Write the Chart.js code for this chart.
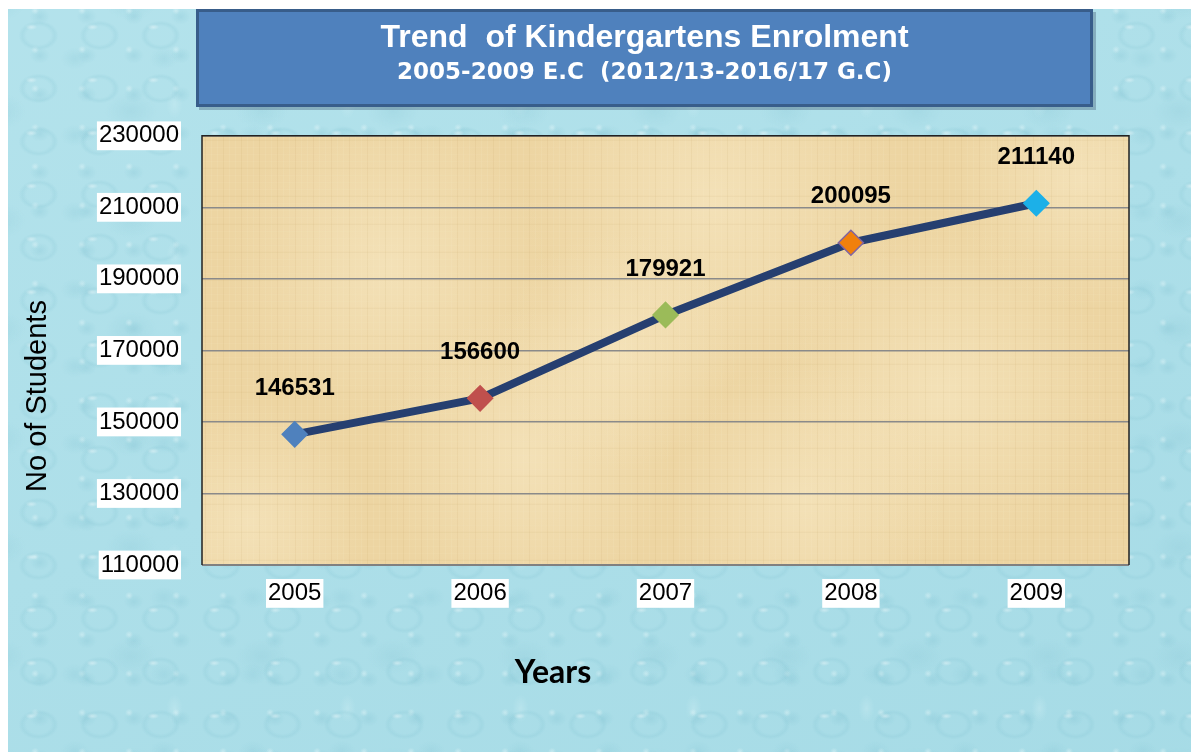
<!DOCTYPE html>
<html>
<head>
<meta charset="utf-8">
<script src="https://cdn.jsdelivr.net/npm/chart.js@4.4.1/dist/chart.umd.min.js"></script>
<style>
  html, body { margin:0; padding:0; background:#ffffff; width:1191px; height:752px; overflow:hidden; }
  #bg {
    position:absolute; left:8px; top:9px; width:1183px; height:743px;
    background-color:#ade0ea;
    background-image:
      radial-gradient(ellipse 6px 3px at 38% 34%, rgba(255,255,255,0.40), rgba(255,255,255,0) 100%),
      radial-gradient(ellipse 20px 15px at 50% 50%, rgba(120,188,204,0.0) 60%, rgba(120,188,204,0.16) 82%, rgba(120,188,204,0) 100%),
      radial-gradient(ellipse 14px 11px at 45% 50%, rgba(130,195,210,0.22), rgba(130,195,210,0) 100%),
      radial-gradient(circle 4px at 30% 30%, rgba(240,252,253,0.40), rgba(240,252,253,0) 100%),
      radial-gradient(ellipse 10px 8px at 40% 45%, rgba(110,180,198,0.20), rgba(110,180,198,0) 100%),
      radial-gradient(ellipse 26px 18px at 55% 60%, rgba(140,200,214,0.25), rgba(140,200,214,0) 100%),
      radial-gradient(ellipse 8px 14px at 50% 50%, rgba(215,243,247,0.30), rgba(215,243,247,0) 100%),
      linear-gradient(160deg, rgba(255,255,255,0.08), rgba(90,165,185,0.08));
    background-size: 61px 53px, 61px 53px, 89px 77px, 47px 39px, 47px 39px, 131px 109px, 173px 151px, 100% 100%;
    background-position: 0 0, 0 0, 27px 11px, 13px 29px, 13px 29px, 51px 37px, 80px 20px, 0 0;
  }
  #wrap { position:absolute; left:0; top:0; width:1191px; height:752px; }
</style>
</head>
<body>
<div id="bg"></div>
<div id="wrap"><canvas id="c" width="1191" height="752"></canvas></div>
<script>
// ---------- data ----------
const years = ['2005', '2006', '2007', '2008', '2009'];
const enrolment = [146531, 156600, 179921, 200095, 211140];
const yMin = 110000;
const yMax = 230000;
const yStep = 20000;
const titleText = 'Trend  of Kindergartens Enrolment';
const subtitleText = '2005-2009 E.C  (2012/13-2016/17 G.C)';
const xAxisTitle = 'Years';
const yAxisTitle = 'No of Students';

// ---------- styles ----------
const markerFill = ['#4F81BD', '#C0504D', '#9BBB59', '#F0800C', '#1CB0E8'];
const markerBorder = ['#4F81BD', '#C0504D', '#9BBB59', '#8064A2', '#1CB0E8'];
const lineColor = '#263F70';
const titleBox = { left: 196, top: 9, right: 1093, bottom: 107 };

const decorPlugin = {
  id: 'decor',
  afterLayout(chart) {
    // centre the title and subtitle over the title box
    chart.boxes.forEach(b => {
      if (b.options && typeof b.options.text === 'string' && !b.axis) {
        b.left = titleBox.left;
        b.right = titleBox.right;
        b.width = titleBox.right - titleBox.left;
      }
    });
  },
  beforeDraw(chart) {
    const ctx = chart.ctx;
    const a = chart.chartArea;
    ctx.save();
    // title box
    const bw = titleBox.right - titleBox.left, bh = titleBox.bottom - titleBox.top;
    ctx.fillStyle = 'rgba(40,60,90,0.30)';
    ctx.fillRect(titleBox.left + 3, titleBox.top + 3, bw, bh);
    ctx.fillStyle = '#4F81BD';
    ctx.fillRect(titleBox.left, titleBox.top, bw, bh);
    ctx.strokeStyle = '#385D8A';
    ctx.lineWidth = 3;
    ctx.strokeRect(titleBox.left + 1.5, titleBox.top + 1.5, bw - 3, bh - 3);
    // parchment plot area
    const w = a.right - a.left, h = a.bottom - a.top;
    ctx.fillStyle = '#EDD5A2';
    ctx.fillRect(a.left, a.top, w, h);
    ctx.beginPath();
    ctx.rect(a.left, a.top, w, h);
    ctx.clip();
    const patches = [[0.2,0.3,160],[0.55,0.15,190],[0.8,0.6,170],[0.35,0.75,150],[0.05,0.9,120],[0.95,0.1,130],[0.65,0.85,140],[0.45,0.5,120]];
    patches.forEach(p => {
      const cx = a.left + p[0]*w, cy = a.top + p[1]*h;
      const g = ctx.createRadialGradient(cx, cy, 0, cx, cy, p[2]);
      g.addColorStop(0, 'rgba(246,230,192,0.7)');
      g.addColorStop(1, 'rgba(246,230,192,0)');
      ctx.fillStyle = g;
      ctx.fillRect(a.left, a.top, w, h);
    });
    ctx.lineWidth = 1;
    for (let x = a.left + 3, i = 0; x < a.right; x += 6, i++) {
      ctx.strokeStyle = (i % 3 === 0) ? 'rgba(170,130,60,0.07)' : 'rgba(255,245,215,0.10)';
      ctx.beginPath(); ctx.moveTo(x + 0.5, a.top); ctx.lineTo(x + 0.5, a.bottom); ctx.stroke();
    }
    for (let y = a.top + 4, i = 0; y < a.bottom; y += 7, i++) {
      ctx.strokeStyle = (i % 4 === 0) ? 'rgba(170,130,60,0.07)' : 'rgba(255,245,215,0.08)';
      ctx.beginPath(); ctx.moveTo(a.left, y + 0.5); ctx.lineTo(a.right, y + 0.5); ctx.stroke();
    }
    ctx.restore();
  },
  beforeDatasetsDraw(chart) {
    const ctx = chart.ctx;
    const a = chart.chartArea;
    ctx.save();
    ctx.lineWidth = 2;
    ctx.strokeStyle = '#808080';
    ctx.beginPath(); ctx.moveTo(a.left, a.bottom); ctx.lineTo(a.right, a.bottom); ctx.stroke();
    ctx.strokeStyle = '#222222';
    ctx.lineWidth = 1.5;
    ctx.beginPath();
    ctx.moveTo(a.left, a.bottom); ctx.lineTo(a.left, a.top); ctx.lineTo(a.right, a.top); ctx.lineTo(a.right, a.bottom);
    ctx.stroke();
    ctx.restore();
  },
  afterDatasetsDraw(chart) {
    const ctx = chart.ctx;
    const meta = chart.getDatasetMeta(0);
    ctx.save();
    ctx.font = 'bold 24px "Liberation Sans", Arial, sans-serif';
    ctx.fillStyle = '#000000';
    ctx.textAlign = 'center';
    ctx.textBaseline = 'middle';
    meta.data.forEach((pt, i) => {
      ctx.fillText(String(chart.data.datasets[0].data[i]), pt.x, pt.y - 46);
    });
    ctx.restore();
  },
  afterDraw(chart) {
    const ctx = chart.ctx;
    ctx.save();
    ctx.fillStyle = '#000000';
    ctx.textAlign = 'center';
    ctx.textBaseline = 'middle';
    // y axis title
    ctx.font = '29px "Liberation Sans", Arial, sans-serif';
    ctx.translate(38, 396);
    ctx.rotate(-Math.PI / 2);
    ctx.fillText(chart.options.scales.y.title.text, 0, 0);
    ctx.setTransform(1, 0, 0, 1, 0, 0);
    // x axis title
    ctx.font = 'bold 32px Lato, "Liberation Sans", sans-serif';
    ctx.fillText(chart.options.scales.x.title.text, 553, 673);
    ctx.restore();
  }
};

new Chart(document.getElementById('c'), {
  type: 'line',
  data: {
    labels: years,
    datasets: [{
      label: 'Enrolment',
      data: enrolment,
      borderColor: lineColor,
      borderWidth: 8,
      borderJoinStyle: 'round',
      borderCapStyle: 'round',
      tension: 0,
      fill: false,
      pointStyle: 'rectRot',
      pointRadius: 12.5,
      pointHoverRadius: 12.5,
      pointBackgroundColor: markerFill,
      pointBorderColor: markerBorder,
      pointBorderWidth: 1.5
    }]
  },
  options: {
    responsive: false,
    devicePixelRatio: 1,
    animation: false,
    events: [],
    layout: { padding: { left: 0, right: 62, top: 0, bottom: 0 } },
    plugins: {
      legend: { display: false },
      tooltip: { enabled: false },
      title: {
        display: true,
        text: titleText,
        color: '#ffffff',
        font: { family: '"Liberation Sans", Arial, sans-serif', size: 32, weight: 'bold', lineHeight: 1.2 },
        padding: { top: 19, bottom: 0 }
      },
      subtitle: {
        display: true,
        text: subtitleText,
        color: '#ffffff',
        font: { family: '"DejaVu Sans", sans-serif', size: 23, weight: 'bold', lineHeight: 1.2 },
        padding: { top: 2, bottom: 48.8 }
      }
    },
    scales: {
      x: {
        type: 'category',
        offset: true,
        afterFit(scale) { scale.height = 187; },
        grid: { display: false, drawTicks: false },
        border: { display: false },
        title: { display: false, text: xAxisTitle },
        ticks: {
          color: '#000000',
          font: { family: '"Liberation Sans", Arial, sans-serif', size: 24 },
          padding: 14,
          showLabelBackdrop: true,
          backdropColor: '#ffffff',
          backdropPadding: { x: 2, y: 0 },
          maxRotation: 0
        }
      },
      y: {
        min: yMin,
        max: yMax,
        afterFit(scale) { scale.width = 202; },
        grid: { color: '#8a8a8a', lineWidth: 1.5, drawTicks: false },
        border: { display: false },
        title: { display: false, text: yAxisTitle },
        ticks: {
          stepSize: yStep,
          color: '#000000',
          font: { family: '"Liberation Sans", Arial, sans-serif', size: 24 },
          padding: 23,
          showLabelBackdrop: true,
          backdropColor: '#ffffff',
          backdropPadding: { x: 2, y: 0 },
          callback: v => String(v)
        }
      }
    }
  },
  plugins: [decorPlugin]
});
</script>
</body>
</html>
